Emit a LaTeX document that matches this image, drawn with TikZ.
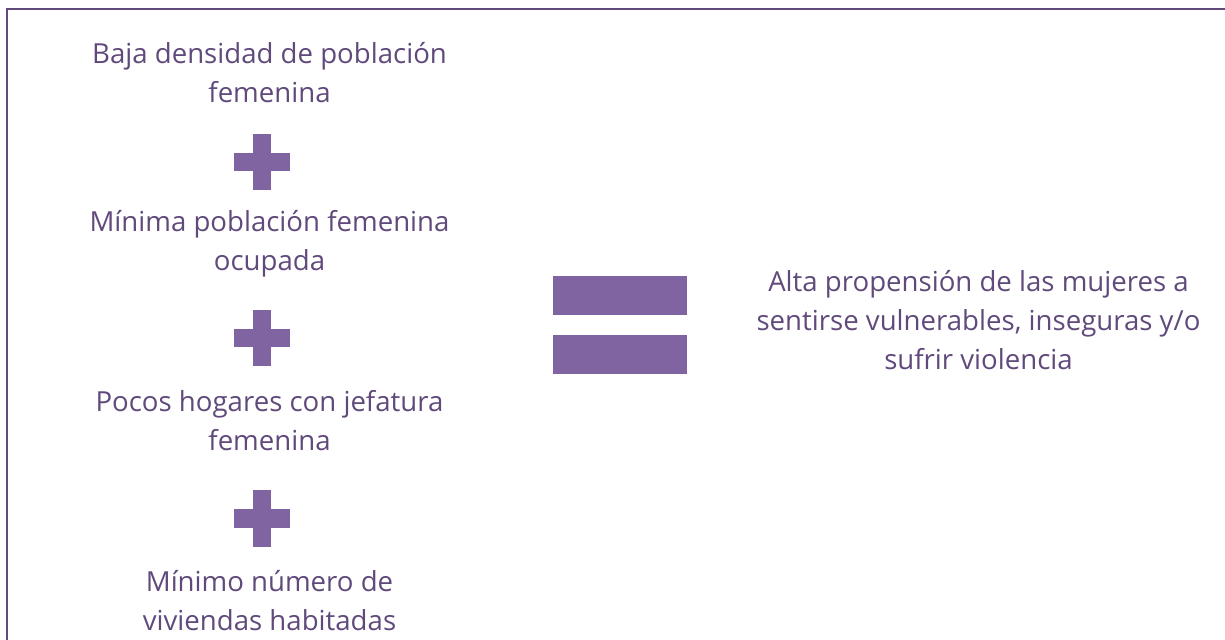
\documentclass[tikz,border=0pt]{standalone}
\usepackage{fontspec}
\setmainfont{Open Sans}
\usetikzlibrary{calc}
\definecolor{moradoTexto}{HTML}{604A7B}
\definecolor{moradoSigno}{HTML}{8064A2}

\begin{document}
\begin{tikzpicture}[
  x=0.5pt, y=-0.5pt,
  font=\fontsize{13.8}{19.5}\selectfont,
  texto/.style={text=moradoTexto, align=center, anchor=base, inner sep=0pt},
  signo/.style={fill=moradoSigno},
  marco/.style={draw=moradoTexto, line width=1pt},
]
\useasboundingbox (0,0) rectangle (1225,640);

\draw[marco] (7,640) -- (7,9) -- (1225,9);

% factores (base = ultima linea)
\node[texto] (factorA) at (269.5,103) {Baja densidad de población\\femenina};
\node[texto] (factorB) at (269.5,271) {Mínima población femenina\\ocupada};
\node[texto] (factorC) at (269.5,451) {Pocos hogares con jefatura\\femenina};
\node[texto] (factorD) at (269.5,630) {Mínimo número de\\viviendas habitadas};

\node[texto] (resultado) at (978.5,370) {Alta propensión de las mujeres a\\sentirse vulnerables, inseguras y/o\\sufrir violencia};

% signos mas
\foreach \y in {162.5,338.5,518.5} {
  \fill[signo] (253,\y-28) rectangle (271,\y+28);
  \fill[signo] (234,\y-9) rectangle (290,\y+9);
}

% signo igual
\fill[signo] (553,276) rectangle (687,315);
\fill[signo] (553,335) rectangle (687,374);

\end{tikzpicture}
\end{document}
